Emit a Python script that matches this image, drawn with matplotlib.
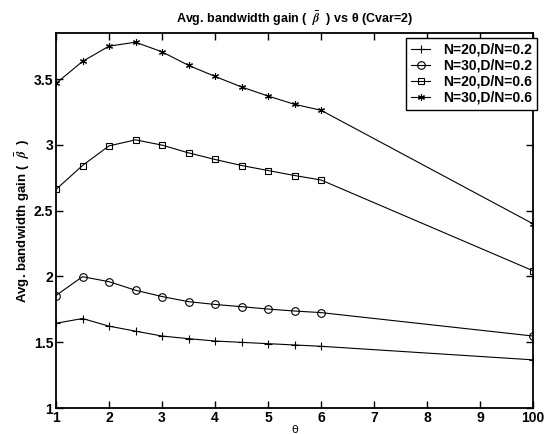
import matplotlib.pyplot as plt
import numpy as np

plt.rcParams['font.family'] = ['Liberation Sans', 'DejaVu Sans']
plt.rcParams['font.weight'] = 'bold'
plt.rcParams['mathtext.fontset'] = 'stix'

theta = [1, 1.5, 2, 2.5, 3, 3.5, 4, 4.5, 5, 5.5, 6, 10]

n20_d02 = [1.644, 1.680, 1.622, 1.584, 1.547, 1.527, 1.509, 1.499, 1.489, 1.479, 1.469, 1.366]
n30_d02 = [1.855, 1.998, 1.960, 1.895, 1.847, 1.808, 1.787, 1.770, 1.752, 1.737, 1.725, 1.547]
n20_d06 = [2.661, 2.843, 2.992, 3.038, 2.998, 2.939, 2.889, 2.843, 2.805, 2.767, 2.733, 2.043]
n30_d06 = [3.467, 3.634, 3.750, 3.780, 3.707, 3.604, 3.520, 3.440, 3.371, 3.308, 3.263, 2.400]

labels = ['N=20,D/N=0.2', 'N=30,D/N=0.2', 'N=20,D/N=0.6', 'N=30,D/N=0.6']
xticks = [1, 2, 3, 4, 5, 6, 7, 8, 9, 10]
xticklabels = ['1', '2', '3', '4', '5', '6', '7', '8', '9', '100']
yticks = [1, 1.5, 2, 2.5, 3, 3.5]
yticklabels = ['1', '1.5', '2', '2.5', '3', '3.5']

fig = plt.figure(figsize=(5.56, 4.34), dpi=100)
ax = fig.add_axes([56 / 556, 26 / 434, 477 / 556, 375 / 434])

ax.plot(theta, n20_d02, 'k-', marker='+', ms=6, lw=0.8, mew=0.8, label=labels[0])
ax.plot(theta, n30_d02, 'k-', marker='o', ms=5.5, lw=0.8, mew=0.8, mfc='none', label=labels[1])
ax.plot(theta, n20_d06, 'k-', marker='s', ms=4.5, lw=0.8, mew=0.8, mfc='none', label=labels[2])
ax.plot(theta, n30_d06, 'k-', marker=(6, 2, 0), ms=5, lw=0.8, mew=0.8, label=labels[3])

ax.set_xlim(1, 10)
ax.set_ylim(1, 3.85)
ax.set_xticks(xticks)
ax.set_xticklabels(xticklabels)
ax.set_yticks(yticks)
ax.set_yticklabels(yticklabels)
ax.tick_params(direction='in', length=5, width=1, top=True, right=True,
               labelsize=10, pad=2)
for s in ax.spines.values():
    s.set_linewidth(1.3)

ax.set_title(r'Avg. bandwidth gain (  $\bar{\beta}$  ) vs θ (Cvar=2)',
             fontsize=9, fontweight='bold', pad=7)
ax.set_ylabel(r'Avg. bandwidth gain (  $\bar{\beta}$  )', fontsize=9.5, fontweight='bold')
ax.set_xlabel('θ', fontsize=8, fontweight='normal', family=['DejaVu Sans'])
ax.xaxis.set_label_coords(0.5, -0.045)
ax.yaxis.set_label_coords(-0.05, 0.5)

leg = ax.legend(loc='upper right', bbox_to_anchor=(1.008, 0.987), borderaxespad=0,
                fontsize=10, handlelength=1.4, handletextpad=0.9, labelspacing=0.15,
                borderpad=0.35, fancybox=False, framealpha=1)
leg.get_frame().set_edgecolor('black')
leg.get_frame().set_linewidth(1.0)

fig.savefig('out.png', dpi=100)
